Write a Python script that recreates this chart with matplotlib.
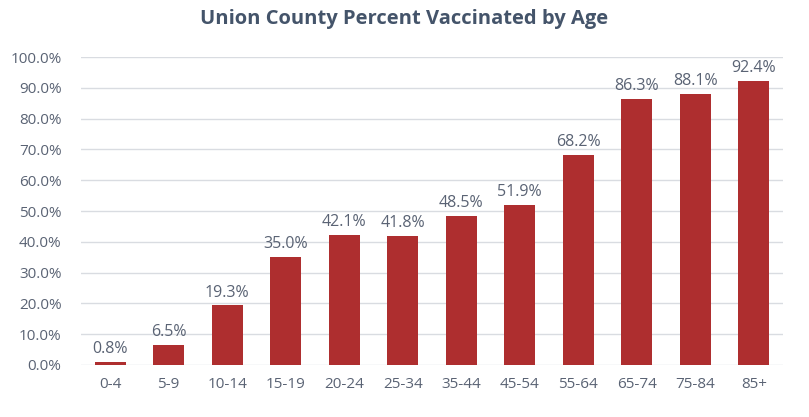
import matplotlib
matplotlib.use("Agg")
import matplotlib.pyplot as plt

categories = ["0-4", "5-9", "10-14", "15-19", "20-24", "25-34", "35-44", "45-54", "55-64", "65-74", "75-84", "85+"]
values = [0.8, 6.5, 19.3, 35.0, 42.1, 41.8, 48.5, 51.9, 68.2, 86.3, 88.1, 92.4]
yticks = [0, 10, 20, 30, 40, 50, 60, 70, 80, 90, 100]

plt.rcParams['font.family'] = ['Open Sans', 'DejaVu Sans']

fig = plt.figure(figsize=(8.09, 4.17), dpi=100)
ax = fig.add_axes([0.1, 0.125, 0.868, 0.738])
x = range(len(categories))
bars = ax.bar(x, values, width=0.53, color="#AE2E2F", zorder=3)
for xi, v in zip(x, values):
    ax.text(xi, v + 1.6, f"{v:.1f}%", ha="center", va="bottom", fontsize=11.5, color="#5A6374")
ax.set_xlim(-0.5, len(categories) - 0.5)
ax.set_ylim(0, 100)
ax.set_yticks(yticks)
ax.set_yticklabels([f"{t:.1f}%" for t in yticks])
ax.set_xticks(list(x))
ax.set_xticklabels(categories)
ax.tick_params(axis="both", length=0, labelsize=11, labelcolor="#5A6374")
ax.tick_params(axis="x", pad=9)
ax.tick_params(axis="y", pad=14)
ax.grid(axis="y", color="#D9DCE1", linewidth=1, zorder=0)
for s in ax.spines.values():
    s.set_visible(False)
fig.text(0.5, 0.955, "Union County Percent Vaccinated by Age", ha="center", va="center",
         fontsize=14.5, fontweight="bold", color="#44546A")
fig.savefig("out.png", dpi=100)
